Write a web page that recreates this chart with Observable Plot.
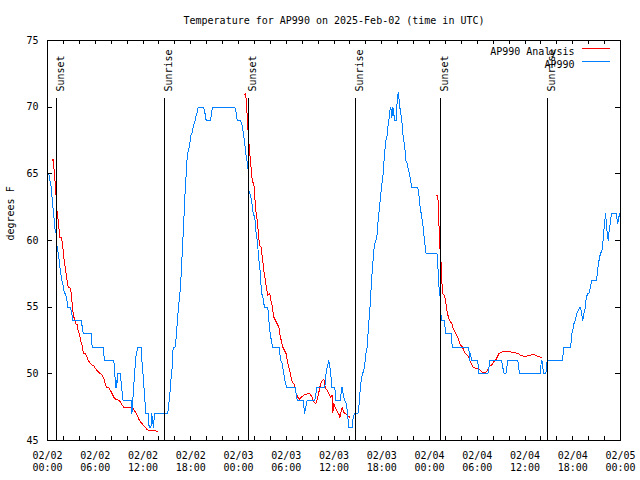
<!DOCTYPE html>
<html>
<head>
<meta charset="utf-8">
<script src="https://cdn.jsdelivr.net/npm/d3@7"></script>
<script src="https://cdn.jsdelivr.net/npm/@observablehq/plot@0.6"></script>
<style>
  body { margin: 0; background: #ffffff; }
  #chart svg { display: block; }
</style>
</head>
<body>
<div id="chart"></div>
<script>
const title = "Temperature for AP990 on 2025-Feb-02 (time in UTC)";
const yLabel = "degrees F";
const seriesNames = ["AP990 Analysis", "AP990"];
const seriesColors = ["#ff0000", "#0080ff"];
const startUTC = Date.UTC(2025, 1, 2, 0, 0);

// AP990 observations: hours since 02/02 00:00 UTC, temperature (F)
const obsHours = [0,0.17,0.29,0.42,0.54,0.67,0.79,0.88,1.0,1.09,1.13,1.3,1.42,1.55,1.67,1.8,1.93,2.05,2.22,2.39,2.55,2.89,3.06,3.18,4.23,4.44,4.48,5.49,5.61,7.0,7.16,8.33,8.46,8.55,8.63,8.71,8.8,9.17,9.3,9.5,10.51,10.6,10.72,10.85,11.0,11.15,11.35,11.75,11.86,12.0,12.15,12.27,12.36,12.65,12.77,13.0,13.1,13.2,13.3,13.45,15.04,15.16,15.29,15.41,15.54,15.67,15.79,16.04,16.17,16.29,16.42,16.54,16.67,16.8,16.92,17.05,17.17,17.3,17.43,17.55,17.68,17.8,17.93,18.06,18.18,18.31,18.43,18.56,18.68,18.81,18.94,19.56,19.73,19.94,20.48,20.65,20.77,23.54,23.75,23.83,24.25,24.42,24.55,24.75,24.88,25.0,25.17,25.3,25.51,25.63,25.76,25.85,26.05,26.18,26.3,26.43,26.56,26.68,26.81,26.93,27.06,27.18,27.31,27.68,27.81,27.94,28.06,28.19,28.31,29.11,29.19,29.32,29.49,29.7,29.82,30.03,31.12,31.25,31.38,32.13,32.3,32.46,32.63,33.59,33.72,33.84,34.85,35.0,35.15,35.35,35.56,35.73,36.1,36.23,36.82,36.94,37.03,37.15,37.32,37.57,37.74,37.86,38.29,38.41,38.58,39.0,39.12,39.25,39.42,39.58,39.75,39.87,40.0,40.17,40.3,40.46,40.59,40.71,40.84,41.0,41.13,41.26,41.38,41.51,41.63,41.76,41.89,42.01,42.14,42.26,42.39,42.52,42.64,42.77,42.89,43.02,43.14,43.27,43.39,43.52,43.6,43.81,43.94,44.07,44.19,44.27,44.4,44.52,44.65,44.77,44.9,45.03,45.2,45.36,45.49,45.61,45.78,46.53,46.7,46.83,46.96,47.08,47.21,47.33,47.46,47.58,48.95,49.05,49.13,49.26,49.38,49.47,49.89,50.01,50.77,50.85,52.94,53.03,53.15,53.28,54.07,54.16,55.33,55.5,55.58,57.05,57.2,57.39,57.6,57.85,59.1,59.31,61.95,62.04,62.16,62.29,62.37,62.62,62.7,62.79,64.67,64.8,64.88,65.72,65.81,65.89,66.01,66.14,66.31,66.39,66.56,66.73,66.85,66.98,67.1,67.27,67.39,67.52,67.6,67.73,67.85,68.02,68.1,68.23,68.36,68.95,69.03,69.11,69.24,69.36,69.49,69.66,69.78,69.87,69.99,70.12,70.24,70.33,70.46,70.58,70.7,70.87,71.46,71.59,71.66,71.79,71.92];
const obsTemps = [65,65,64.5,64.25,63.5,62.5,62,61,60.75,60.5,59.75,59.25,58.75,58,57.5,57,56.75,56.25,56,55.75,55,55,54.5,54,54,53.25,53,53,52,52,51,51,50,49,49.5,49,50,50,49,48,48,47,48,49.25,50.5,51.5,52,52,51,50,48.75,47.75,47,47,46,46,47,46.5,46,47,47,47.25,48,48.75,49.75,50.5,52,52,52.75,53.75,54.75,55.5,56.25,57.5,59,60.5,62,63.75,65,66.25,66.75,67,67.5,68,68.1,68.5,68.75,69,69.4,69.6,70,70,69.75,69,69,69.75,70,70,69.5,69,69,68.75,68.25,67.5,66.75,66.1,65.75,63.75,63.4,63,62.5,62,61.75,60.75,60.25,59.5,58.5,58,56.75,56,55.75,55.25,55,55,54,53.25,52.75,52.25,52,52,51.5,51,50.75,50,49.5,49,49,48.5,48,48,47,47.5,48,48,48.5,49,49,50,50.5,51,50.25,49,49,48,48,49,49,48.5,48,47.75,46.75,46,46,46.75,47,47,47.5,48.5,49.5,50,50.25,50.75,51.5,52,53.25,54.5,55.5,57,58,59.25,59.75,60,60.25,61.25,62,62.75,63.5,64.25,64.75,65.75,66.75,67.5,67.75,68.5,69,69.75,70,69.25,70,69.5,69,69,70.5,71.1,70.5,70,69.5,69,68,67.5,67,66,65.75,65.25,65,64.5,64,64,63.25,62.5,62,61.5,61,60.25,59.5,59,59,58.25,56.75,56.25,55.5,54,54,53,53,52,52,51,51.5,51,51,50,50,50.6,51,51,50.5,50,50,51,51,50,50,51,50.9,50.25,50,50,50.5,51,51,51.5,52,52,52.5,53,53.25,53.75,54,54.25,54.6,54.75,55,55,54.5,54,54.5,54.75,55.25,55.75,56,56,56.25,56.5,57,57,57.25,57.75,58.25,58.75,59,59.25,59.75,60.5,61.25,62,61.25,60.5,60,60.75,61.25,62,62,61.5,61.25,61.75,62];

// AP990 Analysis: hours since 02/02 00:00 UTC, temperature (F); null = gap
const anaHours = [0.59,0.72,0.8,1.05,1.13,1.3,1.42,1.55,1.76,1.84,1.97,2.09,2.22,2.35,2.47,2.6,2.81,2.93,3.02,3.1,3.18,3.31,3.48,3.6,3.73,3.85,4.02,4.15,4.31,4.44,4.57,4.78,4.99,5.11,5.32,5.49,5.82,6.03,6.24,6.45,6.66,6.87,7.0,7.16,7.33,7.5,7.71,7.92,8.13,8.33,8.54,8.76,9.01,9.17,9.38,9.59,10.64,10.93,11.27,11.48,11.69,11.9,12.1,12.31,12.53,12.94,13.86,
  null,
  24.75,24.9,24.97,25.09,25.2,25.38,25.51,25.63,25.76,25.93,26.05,26.18,26.35,26.47,26.64,26.85,26.98,27.1,27.18,27.31,27.43,27.56,27.68,27.94,28.06,28.19,28.31,28.44,28.65,28.86,29.07,29.19,29.37,29.57,29.78,29.99,30.12,30.32,30.54,30.66,30.95,31.12,31.25,31.46,31.67,31.88,32.21,32.63,32.96,33.25,33.46,33.72,33.97,34.14,34.31,34.52,34.73,34.93,35.15,35.35,35.56,35.77,35.86,35.98,36.15,36.32,36.48,36.61,36.73,37.03,37.23,37.45,37.66,37.95,
  null,
  48.84,49.05,49.09,49.17,49.3,49.47,49.55,49.64,49.89,50.01,50.14,50.26,50.39,50.52,50.64,50.81,50.93,51.1,51.31,51.56,51.81,51.98,52.15,52.31,52.53,52.73,52.94,53.07,53.24,53.49,53.78,54.07,54.41,54.71,55.04,55.25,55.46,55.67,55.88,56.08,56.29,56.51,56.71,56.92,57.14,58.18,58.6,59.02,59.22,59.44,59.86,60.07,60.28,60.69,61.11,61.32,61.61,61.95,62.1];
const anaTemps = [66,66.1,65.5,63.75,62.5,61.75,61,60.25,60.25,59.9,59.25,58.5,58,57.5,57,56.5,56.5,56.25,55.75,55.25,54.75,54.25,54,53.7,53.7,53.25,53,52.5,52.25,51.75,51.5,51.5,51.25,51,50.85,50.7,50.6,50.4,50.25,50.1,50,49.9,49.75,49.5,49.1,48.95,48.95,48.75,48.5,48.25,48.1,48.05,48,47.9,47.65,47.5,47.5,47.25,46.9,46.6,46.4,46.25,46.1,46,45.8,45.75,45.7,
  null,
  70.95,71.0,70.5,69.4,68.25,66.75,66,65,64.4,64.25,63.25,62.25,61.5,60.75,59.6,59.5,58.75,58.25,57.75,57.25,56.75,56.25,55.9,56,55.5,55.25,54.75,54.25,54,53.75,53.5,53,52.5,52,51.75,51.5,51,50.5,50,49.5,49.25,49,48.5,48.25,48.1,48.25,48.4,48.5,48.5,48.25,47.9,47.75,48.25,48.75,49.25,49.5,49.6,48.9,48.75,48.5,48.25,48.4,47.1,47.75,47.5,47.25,47.1,47,46.7,47.5,47.1,47,46.9,46.75,
  null,
  63.4,63.4,62.75,61.5,59.5,58.25,57,56,55.9,55.5,55,54.5,54.25,54,53.9,53.75,53.5,53.25,53,52.75,52.25,52.1,52,51.75,51.5,51.4,51.25,51,50.75,50.5,50.4,50.4,50.25,50.1,50.1,50.25,50.5,50.6,50.7,50.9,51,51.25,51.5,51.6,51.65,51.65,51.6,51.55,51.5,51.4,51.3,51.3,51.35,51.4,51.45,51.4,51.3,51.25,51.25];

// Sunset / sunrise markers
const sunHours = [1.13, 14.74, 25.3, 38.74, 49.43, 62.87];
const sunLabels = ["Sunset", "Sunrise", "Sunset", "Sunrise", "Sunset", "Sunrise"];

// Axis ticks
const xLabelHours = [0, 6, 12, 18, 24, 30, 36, 42, 48, 54, 60, 66, 72];
const xTickHours = [0,2,4,6,8,10,12,14,16,18,20,22,24,26,28,30,32,34,36,38,40,42,44,46,48,50,52,54,56,58,60,62,64,66,68,70,72];
const yTicks = [45, 50, 55, 60, 65, 70, 75];

const toDate = h => (h == null ? null : new Date(startUTC + h * 3600000));
const obs = obsHours.map((h, i) => ({t: toDate(h), v: obsTemps[i]}));
const ana = anaHours.map((h, i) => ({t: toDate(h), v: anaTemps[i]}));
const sun = sunHours.map((h, i) => ({t: toDate(h), label: sunLabels[i]}));
const xTicks = xTickHours.map(toDate);
const fmt = d3.utcFormat("%m/%d\n%H:%M");

// frame is 573 x 400 px; ticks are short rules kept by insets
const frameW = 640 - 47 - 20, frameH = 480 - 40 - 40;
const tickLen = 4;

const chart = Plot.plot({
  width: 640,
  height: 480,
  marginLeft: 47,
  marginRight: 20,
  marginTop: 40,
  marginBottom: 40,
  style: {fontFamily: "'DejaVu Sans Mono', monospace", fontSize: "10px", background: "#ffffff", color: "#000000"},
  x: {type: "utc", domain: [toDate(0), toDate(72)]},
  y: {domain: [45, 75]},
  marks: [
    Plot.line(ana, {x: "t", y: "v", stroke: seriesColors[0], strokeWidth: 1, shapeRendering: "crispEdges"}),
    Plot.line(obs, {x: "t", y: "v", stroke: seriesColors[1], strokeWidth: 1, shapeRendering: "crispEdges"}),
    Plot.ruleX(sun, {x: "t", insetTop: 58, stroke: "#000000", strokeWidth: 1, shapeRendering: "crispEdges"}),
    Plot.text(sun, {x: "t", text: "label", frameAnchor: "top", rotate: -90, textAnchor: "start", dy: 51, fill: "#000000"}),
    Plot.ruleX(xTicks, {x: d => d, insetTop: frameH - tickLen, stroke: "#000000", shapeRendering: "crispEdges"}),
    Plot.ruleX(xTicks, {x: d => d, insetBottom: frameH - tickLen, stroke: "#000000", shapeRendering: "crispEdges"}),
    Plot.ruleY(yTicks, {y: d => d, insetRight: frameW - tickLen - 1, stroke: "#000000", shapeRendering: "crispEdges"}),
    Plot.ruleY(yTicks, {y: d => d, insetLeft: frameW - tickLen - 1, stroke: "#000000", shapeRendering: "crispEdges"}),
    Plot.frame({stroke: "#000000", shapeRendering: "crispEdges"}),
    Plot.axisX(xLabelHours.map(toDate), {anchor: "bottom", tickSize: 0, tickPadding: 10, tickFormat: fmt, lineHeight: 1.2, label: null}),
    Plot.axisY(yTicks, {anchor: "left", tickSize: 0, tickPadding: 9, label: null}),
    Plot.text([yLabel], {frameAnchor: "left", dx: -37, rotate: -90, fill: "#000000"}),
    Plot.text([title], {frameAnchor: "top", dy: -24, fill: "#000000"}),
    Plot.text([seriesNames[0]], {frameAnchor: "top-right", dx: -46, dy: 7, textAnchor: "end", fill: "#000000"}),
    Plot.text([seriesNames[1]], {frameAnchor: "top-right", dx: -46, dy: 20, textAnchor: "end", fill: "#000000"}),
    // legend samples: short rules kept near the top-right corner by insets
    Plot.ruleY([0], {y: () => 75, insetLeft: frameW - 38, insetRight: 10, dy: 8, stroke: seriesColors[0], strokeWidth: 1, shapeRendering: "crispEdges"}),
    Plot.ruleY([0], {y: () => 75, insetLeft: frameW - 38, insetRight: 10, dy: 21, stroke: seriesColors[1], strokeWidth: 1, shapeRendering: "crispEdges"})
  ]
});
document.getElementById("chart").appendChild(chart);
</script>
</body>
</html>
